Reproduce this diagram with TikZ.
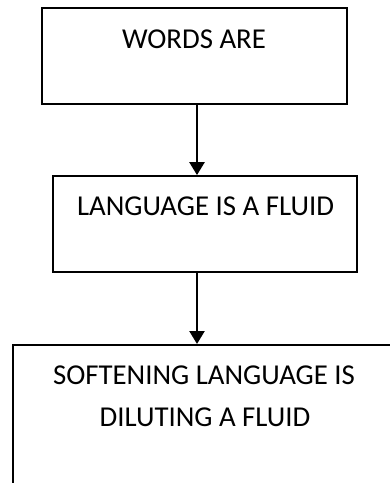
\documentclass[tikz,border=0pt]{standalone}
\usepackage{fontspec}
\setmainfont{Carlito}
\usetikzlibrary{arrows.meta}
\begin{document}
\begin{tikzpicture}[x=1pt,y=-1pt,
  box/.style={draw,line width=1.8pt,inner sep=0pt},
  lbl/.style={anchor=base,font=\fontsize{28.8}{42}\selectfont,inner sep=0pt,align=center},
  conn/.style={line width=2.5pt,-{Triangle[width=15pt,length=13pt]}}]
\useasboundingbox (0,0) rectangle (390,483);
\clip (0,0) rectangle (390,483);
\node[box,minimum width=305pt,minimum height=96pt] (b1) at (194.2,56.3) {};
\node[box,minimum width=304pt,minimum height=96pt] (b2) at (205,224) {};
\node[box,anchor=north west,minimum width=384pt,minimum height=200pt] (b3) at (11.7,344) {};
\node[lbl] (t1) at (194,48) {WORDS ARE};
\node[lbl] (t2) at (205.5,215) {LANGUAGE IS A FLUID};
\node[lbl] (t3) at (204,384) {SOFTENING LANGUAGE IS};
\node[lbl] (t4) at (205,426) {DILUTING A FLUID};
\draw[conn] (197,0 |- b1.south) -- (197,0 |- b2.north);
\draw[conn] (197,0 |- b2.south) -- (197,0 |- b3.north);
\end{tikzpicture}
\end{document}
